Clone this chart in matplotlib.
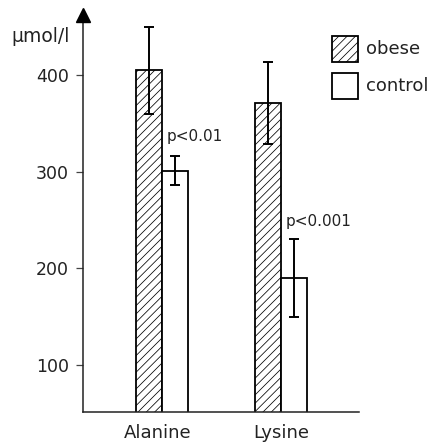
import matplotlib
matplotlib.use("Agg")
import matplotlib.pyplot as plt
from matplotlib.patches import Rectangle

# ---- data ----
categories = ["Alanine", "Lysine"]
series_names = ["obese", "control"]
obese_mean = [405, 371]
obese_err = [45, 42]
control_mean = [301, 190]
control_err = [15, 40]
p_labels = ["p<0.01", "p<0.001"]
yticks = [100, 200, 300, 400]
ylabel = "μmol/l"

W, H = 431, 442
plt.rcParams["font.family"] = ["DejaVu Sans"]
plt.rcParams["hatch.linewidth"] = 0.55
plt.rcParams["hatch.color"] = "black"

fig = plt.figure(figsize=(W / 100, H / 100), dpi=100)
fig.patch.set_facecolor("white")

# axes placement in pixels
ax_l, ax_r, ax_b, ax_t = 83, 359, 412, 15
ax = fig.add_axes([ax_l / W, 1 - ax_b / H, (ax_r - ax_l) / W, (ax_b - ax_t) / H])

pos = list(range(len(categories)))
w = 0.215
lw_bar = 1.3

ax.bar([p - w for p in pos], obese_mean, width=w, align="edge",
       facecolor="white", edgecolor="black", hatch="////", linewidth=lw_bar, zorder=2)
ax.bar(pos, control_mean, width=w, align="edge",
       facecolor="white", edgecolor="black", linewidth=lw_bar, zorder=2)
ax.errorbar([p - w / 2 for p in pos], obese_mean, yerr=obese_err, fmt="none",
            ecolor="black", elinewidth=1.4, capsize=3.3, capthick=1.4, zorder=3)
ax.errorbar([p + w / 2 for p in pos], control_mean, yerr=control_err, fmt="none",
            ecolor="black", elinewidth=1.4, capsize=3.3, capthick=1.4, zorder=3)

# scales
px_per_unit_x = 119.0
ax.set_xlim(-(162 - ax_l) / px_per_unit_x, 1 + (ax_r - 281) / px_per_unit_x)
px_per_100 = 96.67
ax.set_ylim(400 - (ax_b - 75) / px_per_100 * 100, 400 + (75 - ax_t) / px_per_100 * 100)

ax.set_yticks(yticks)
ax.set_yticklabels([str(t) for t in yticks], fontsize=12.5, color="#222222")
ax.tick_params(axis="y", length=5, width=0.9, pad=5, color="#444444")
ax.set_xticks([pos[0] - 0.04, pos[1] + 0.0])
ax.set_xticklabels(categories, fontsize=13, color="#222222")
ax.tick_params(axis="x", length=0, pad=9)

for s in ["top", "right"]:
    ax.spines[s].set_visible(False)
for s in ["left", "bottom"]:
    ax.spines[s].set_linewidth(1.1)
    ax.spines[s].set_color("#222222")

# arrow at top of y axis
ax.plot([0], [1], marker="^", markersize=10, color="black", transform=ax.transAxes,
        clip_on=False, zorder=5)

# y label
fig.text(41 / W, 1 - 37 / H, ylabel, fontsize=13.5, ha="center", va="center", color="#222222")

# p-value annotations
ax.text(pos[0] + 0.04, control_mean[0] + control_err[0] + 20, p_labels[0],
        fontsize=11, ha="left", va="center", color="#222222")
ax.text(pos[1] + 0.035, control_mean[1] + control_err[1] + 18, p_labels[1],
        fontsize=11, ha="left", va="center", color="#222222")

# legend (manual)
def fx(px):
    return px / W

def fy(py):
    return 1 - py / H

sq = 26
for i, (name, hatch) in enumerate(zip(series_names, ["////", None])):
    top = 36 + i * 37
    r = Rectangle((fx(332), fy(top + sq)), sq / W, sq / H, transform=fig.transFigure,
                  facecolor="white", edgecolor="black", linewidth=lw_bar, hatch=hatch)
    fig.add_artist(r)
    fig.text(fx(366), fy(top + sq / 2), name, fontsize=13, ha="left", va="center",
             color="#222222")

fig.savefig("out.png", dpi=100, facecolor="white")
